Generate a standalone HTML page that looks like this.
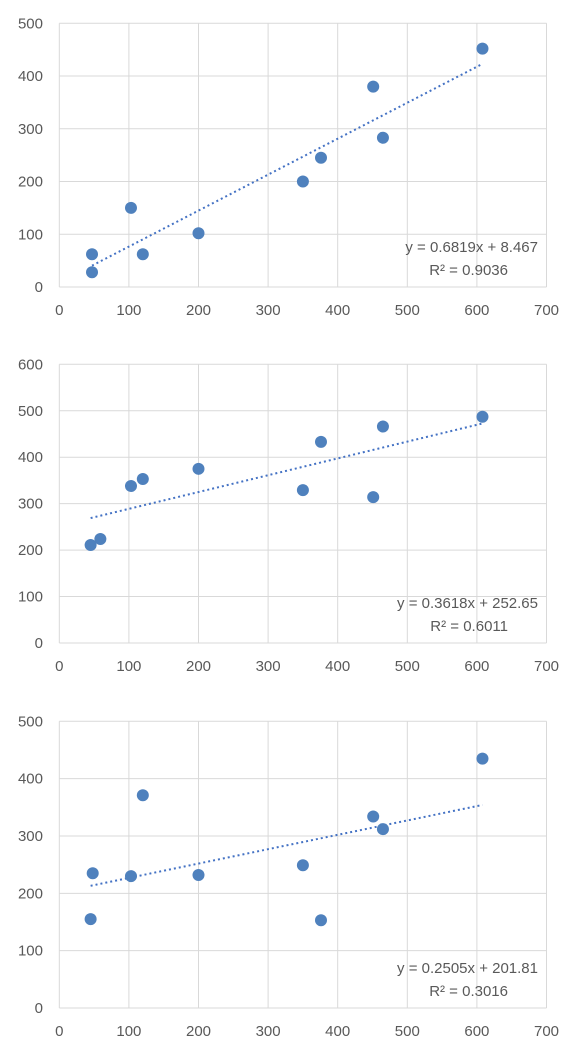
<!DOCTYPE html>
<html><head><meta charset="utf-8"><style>
body{margin:0;background:#fff;font-family:"Liberation Sans",sans-serif}
svg text{font-family:"Liberation Sans",sans-serif;fill:#595959;font-size:15px}
</style></head><body>
<svg id="s" width="584" height="1057"></svg>
<script>
const xTicks=[0,100,200,300,400,500,600,700];
const xs1=[47,47,103,120,200,350,376,451,465,608];
const ys1=[62,28,150,62,102,200,245,380,283,452];
const xs2=[45,59,103,120,200,350,376,451,465,608];
const ys2=[211,224,338,353,375,329,433,314,466,487];
const xs3=[48,45,103,120,200,350,376,451,465,608];
const ys3=[235,155,230,371,232,249,153,334,312,435];
const fits=[[0.6819,8.467],[0.3618,252.65],[0.2505,201.81]];
const eqs=["y = 0.6819x + 8.467","y = 0.3618x + 252.65","y = 0.2505x + 201.81"];
const r2s=["R² = 0.9036","R² = 0.6011","R² = 0.3016"];
const yMaxs=[500,600,500];
const charts=[{top:23.3,bot:287,xs:xs1,ys:ys1},{top:364.3,bot:643,xs:xs2,ys:ys2},{top:721.3,bot:1008,xs:xs3,ys:ys3}];
const NS="http://www.w3.org/2000/svg",svg=document.getElementById('s');
function mk(t,a,p){const e=document.createElementNS(NS,t);for(const k in a)e.setAttribute(k,a[k]);(p||svg).appendChild(e);return e;}
const L=59.3,R=546.5;
charts.forEach((c,i)=>{
  const g=mk('g',{});
  
  
  const ymax=yMaxs[i];
  const sx=v=>L+(R-L)*v/700, sy=v=>c.bot-(c.bot-c.top)*v/ymax;
  for(let v=0;v<=ymax;v+=100){
    const ln=mk('line',{x1:L,x2:R,y1:sy(v),y2:sy(v),stroke:'#d9d9d9','stroke-width':1},g);
    
    
    const t=mk('text',{x:43,y:sy(v)+5,'text-anchor':'end'},g);t.textContent=v;
    
    
  }
  xTicks.forEach(v=>{
    const ln=mk('line',{x1:sx(v),x2:sx(v),y1:c.top,y2:c.bot,stroke:'#d9d9d9','stroke-width':1},g);
    
    
    const t=mk('text',{x:sx(v),y:c.bot+28,'text-anchor':'middle'},g);t.textContent=v;
    
    
  });
  const [m,b]=fits[i];const x0=Math.min(...c.xs),x1=Math.max(...c.xs);
  const tl=mk('line',{x1:sx(x0),y1:sy(m*x0+b),x2:sx(x1),y2:sy(m*x1+b),stroke:'#4472c4','stroke-width':2,'stroke-dasharray':'2 3'},g);
  
  
  c.xs.forEach((x,j)=>{
    const p=mk('circle',{cx:sx(x),cy:sy(c.ys[j]),r:6,fill:'#4f81bd'},g);
    
    
  });
  const e=mk('text',{x:538,y:c.bot-35,'text-anchor':'end'},g);e.textContent=eqs[i];
  
  
  const r=mk('text',{x:508,y:c.bot-12,'text-anchor':'end'},g);r.textContent=r2s[i];
  
  
});
</script>
</body></html>
